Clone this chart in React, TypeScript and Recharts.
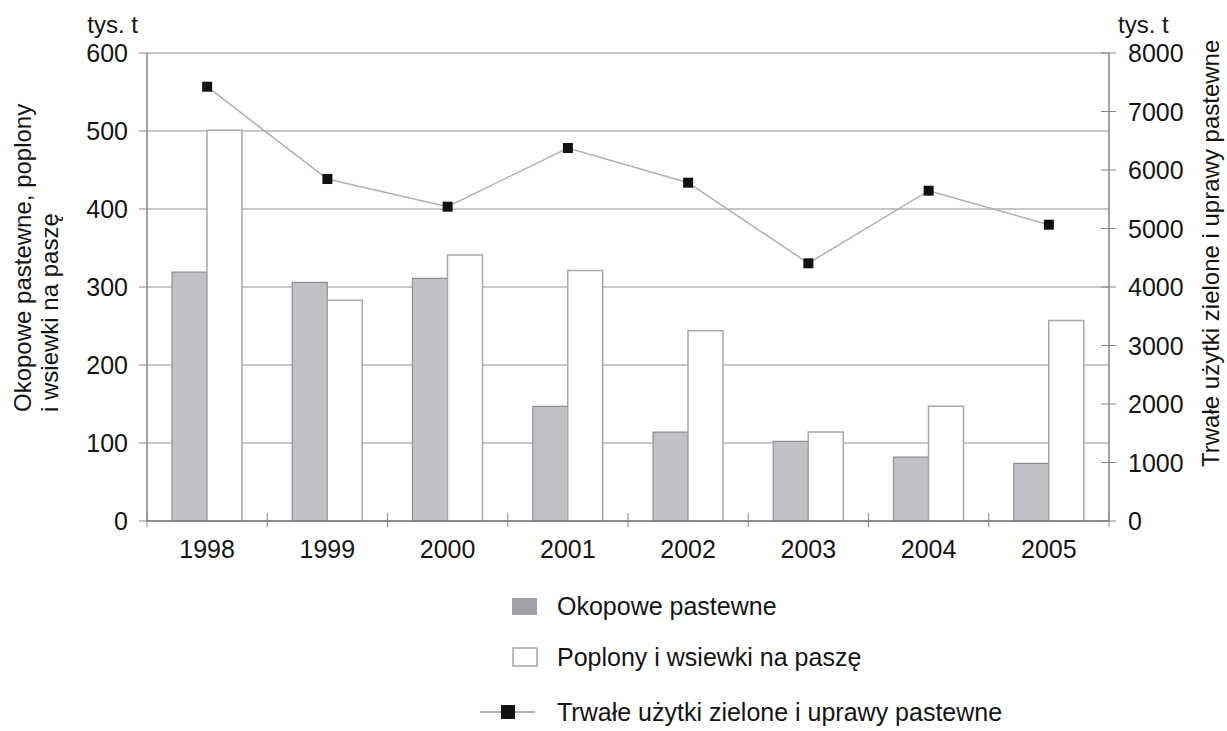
import React from "react";
import { Bar, CartesianGrid, ComposedChart, Line, XAxis, YAxis } from "recharts";

const years = ["1998", "1999", "2000", "2001", "2002", "2003", "2004", "2005"];
const okopowe = [319, 306, 311, 147, 114, 102, 82, 74];
const poplony = [501, 283, 341, 321, 244, 114, 147, 257];
const trwale = [7424, 5846, 5373, 6376, 5783, 4405, 5646, 5065];
const leftTicks = [0, 100, 200, 300, 400, 500, 600];
const rightTicks = [0, 1000, 2000, 3000, 4000, 5000, 6000, 7000, 8000];

const data = years.map((year, i) => ({
  year,
  okopowe: okopowe[i],
  poplony: poplony[i],
  trwale: trwale[i],
}));

// whole page, body margin ignored (wrapper is absolutely placed at 0,0)
const W = 1227;
const H = 731;
const PLOT_LEFT = 147;
const PLOT_RIGHT = 1109;
const PLOT_TOP = 53;
const PLOT_BOTTOM = 521;
const X_AXIS_H = 40;
const BAND = (PLOT_RIGHT - PLOT_LEFT) / years.length;

const FONT = "'Liberation Sans', Arial, Helvetica, sans-serif";
const TEXT = "#151515";
const AXIS = "#858585";
const TICK_FS = 25;
const LEGEND_FS = 25;

function LeftTick({ x, y, payload }: any) {
  return (
    <g>
      <line x1={x - 8} x2={x} y1={y} y2={y} stroke={AXIS} />
      <text x={x - 19} y={y + 9} textAnchor="end" fontSize={TICK_FS} fontFamily={FONT} fill={TEXT}>
        {payload.value}
      </text>
    </g>
  );
}

function RightTick({ x, y, payload }: any) {
  return (
    <g>
      <line x1={x - 8} x2={x + 7} y1={y} y2={y} stroke={AXIS} />
      <text x={x + 19} y={y + 9} textAnchor="start" fontSize={TICK_FS} fontFamily={FONT} fill={TEXT}>
        {payload.value}
      </text>
    </g>
  );
}

function BottomTick({ x, y, payload, index }: any) {
  const left = x - BAND / 2;
  const right = x + BAND / 2;
  return (
    <g>
      <line x1={left} x2={left} y1={y - 8} y2={y + 6} stroke={AXIS} />
      {index === years.length - 1 && (
        <line x1={right} x2={right} y1={y - 8} y2={y + 6} stroke={AXIS} />
      )}
      <text x={x} y={y + 37} textAnchor="middle" fontSize={TICK_FS} fontFamily={FONT} fill={TEXT}>
        {payload.value}
      </text>
    </g>
  );
}

function SquareDot({ cx, cy }: any) {
  if (cx == null || cy == null) return null;
  return <rect x={cx - 5} y={cy - 5} width={10} height={10} fill="#111" />;
}

export default function App() {
  return (
    <div style={{ position: "absolute", left: 0, top: 0, width: W, height: H, overflow: "hidden" }}>
      <ComposedChart
        width={W}
        height={H}
        data={data}
        margin={{ top: PLOT_TOP, right: 0, left: 0, bottom: H - PLOT_BOTTOM - X_AXIS_H }}
        barSize={35}
        barGap={0}
      >
        <CartesianGrid yAxisId="left" vertical={false} stroke="#b4b4b4" strokeWidth={1.5} />
        <XAxis
          dataKey="year"
          height={X_AXIS_H}
          axisLine={{ stroke: "#7a7a7a", strokeWidth: 1.5 }}
          tickLine={false}
          tickSize={0}
          tickMargin={0}
          tick={<BottomTick />}
          interval={0}
        />
        <YAxis
          yAxisId="left"
          orientation="left"
          width={PLOT_LEFT}
          domain={[0, 600]}
          ticks={leftTicks}
          axisLine={{ stroke: AXIS, strokeWidth: 1.5 }}
          tickLine={false}
          tickSize={0}
          tickMargin={0}
          tick={<LeftTick />}
          interval={0}
        />
        <YAxis
          yAxisId="right"
          orientation="right"
          width={W - PLOT_RIGHT}
          domain={[0, 8000]}
          ticks={rightTicks}
          axisLine={{ stroke: AXIS, strokeWidth: 1.5 }}
          tickLine={false}
          tickSize={0}
          tickMargin={0}
          tick={<RightTick />}
          interval={0}
        />
        <Bar
          yAxisId="left"
          dataKey="okopowe"
          fill="#c2c2c6"
          stroke="#8e8e92"
          strokeWidth={1.2}
          isAnimationActive={false}
        />
        <Bar
          yAxisId="left"
          dataKey="poplony"
          fill="#ffffff"
          stroke="#a8a8a8"
          strokeWidth={1.5}
          isAnimationActive={false}
        />
        <Line
          yAxisId="right"
          dataKey="trwale"
          type="linear"
          stroke="#b0b0b0"
          strokeWidth={1.5}
          dot={<SquareDot />}
          activeDot={false}
          isAnimationActive={false}
        />
      </ComposedChart>

      <svg
        width={W}
        height={H}
        style={{ position: "absolute", left: 0, top: 0, pointerEvents: "none" }}
        fontFamily={FONT}
        fill={TEXT}
      >
        <text x={138} y={33} textAnchor="end" fontSize={24}>tys. t</text>
        <text x={1118} y={33} textAnchor="start" fontSize={24}>tys. t</text>

        <text transform="translate(31,412) rotate(-90)" fontSize={24}>
          Okopowe pastewne, poplony
        </text>
        <text transform="translate(58,412) rotate(-90)" fontSize={24}>
          i wsiewki na paszę
        </text>
        <text transform="translate(1219,467) rotate(-90)" fontSize={24}>
          Trwałe użytki zielone i uprawy pastewne
        </text>

        <rect x={512} y={598} width={25} height={17} fill="#a2a2a8" />
        <text x={557} y={615} fontSize={LEGEND_FS}>Okopowe pastewne</text>

        <rect x={513} y={648} width={24} height={18} fill="#fff" stroke="#a8a8a8" strokeWidth={1.5} />
        <text x={557} y={666} fontSize={LEGEND_FS}>Poplony i wsiewki na paszę</text>

        <line x1={480} x2={535} y1={712} y2={712} stroke="#9a9a9a" strokeWidth={1.5} />
        <rect x={501} y={705} width={14} height={14} fill="#111" />
        <text x={557} y={721} fontSize={LEGEND_FS}>Trwałe użytki zielone i uprawy pastewne</text>
      </svg>
    </div>
  );
}
